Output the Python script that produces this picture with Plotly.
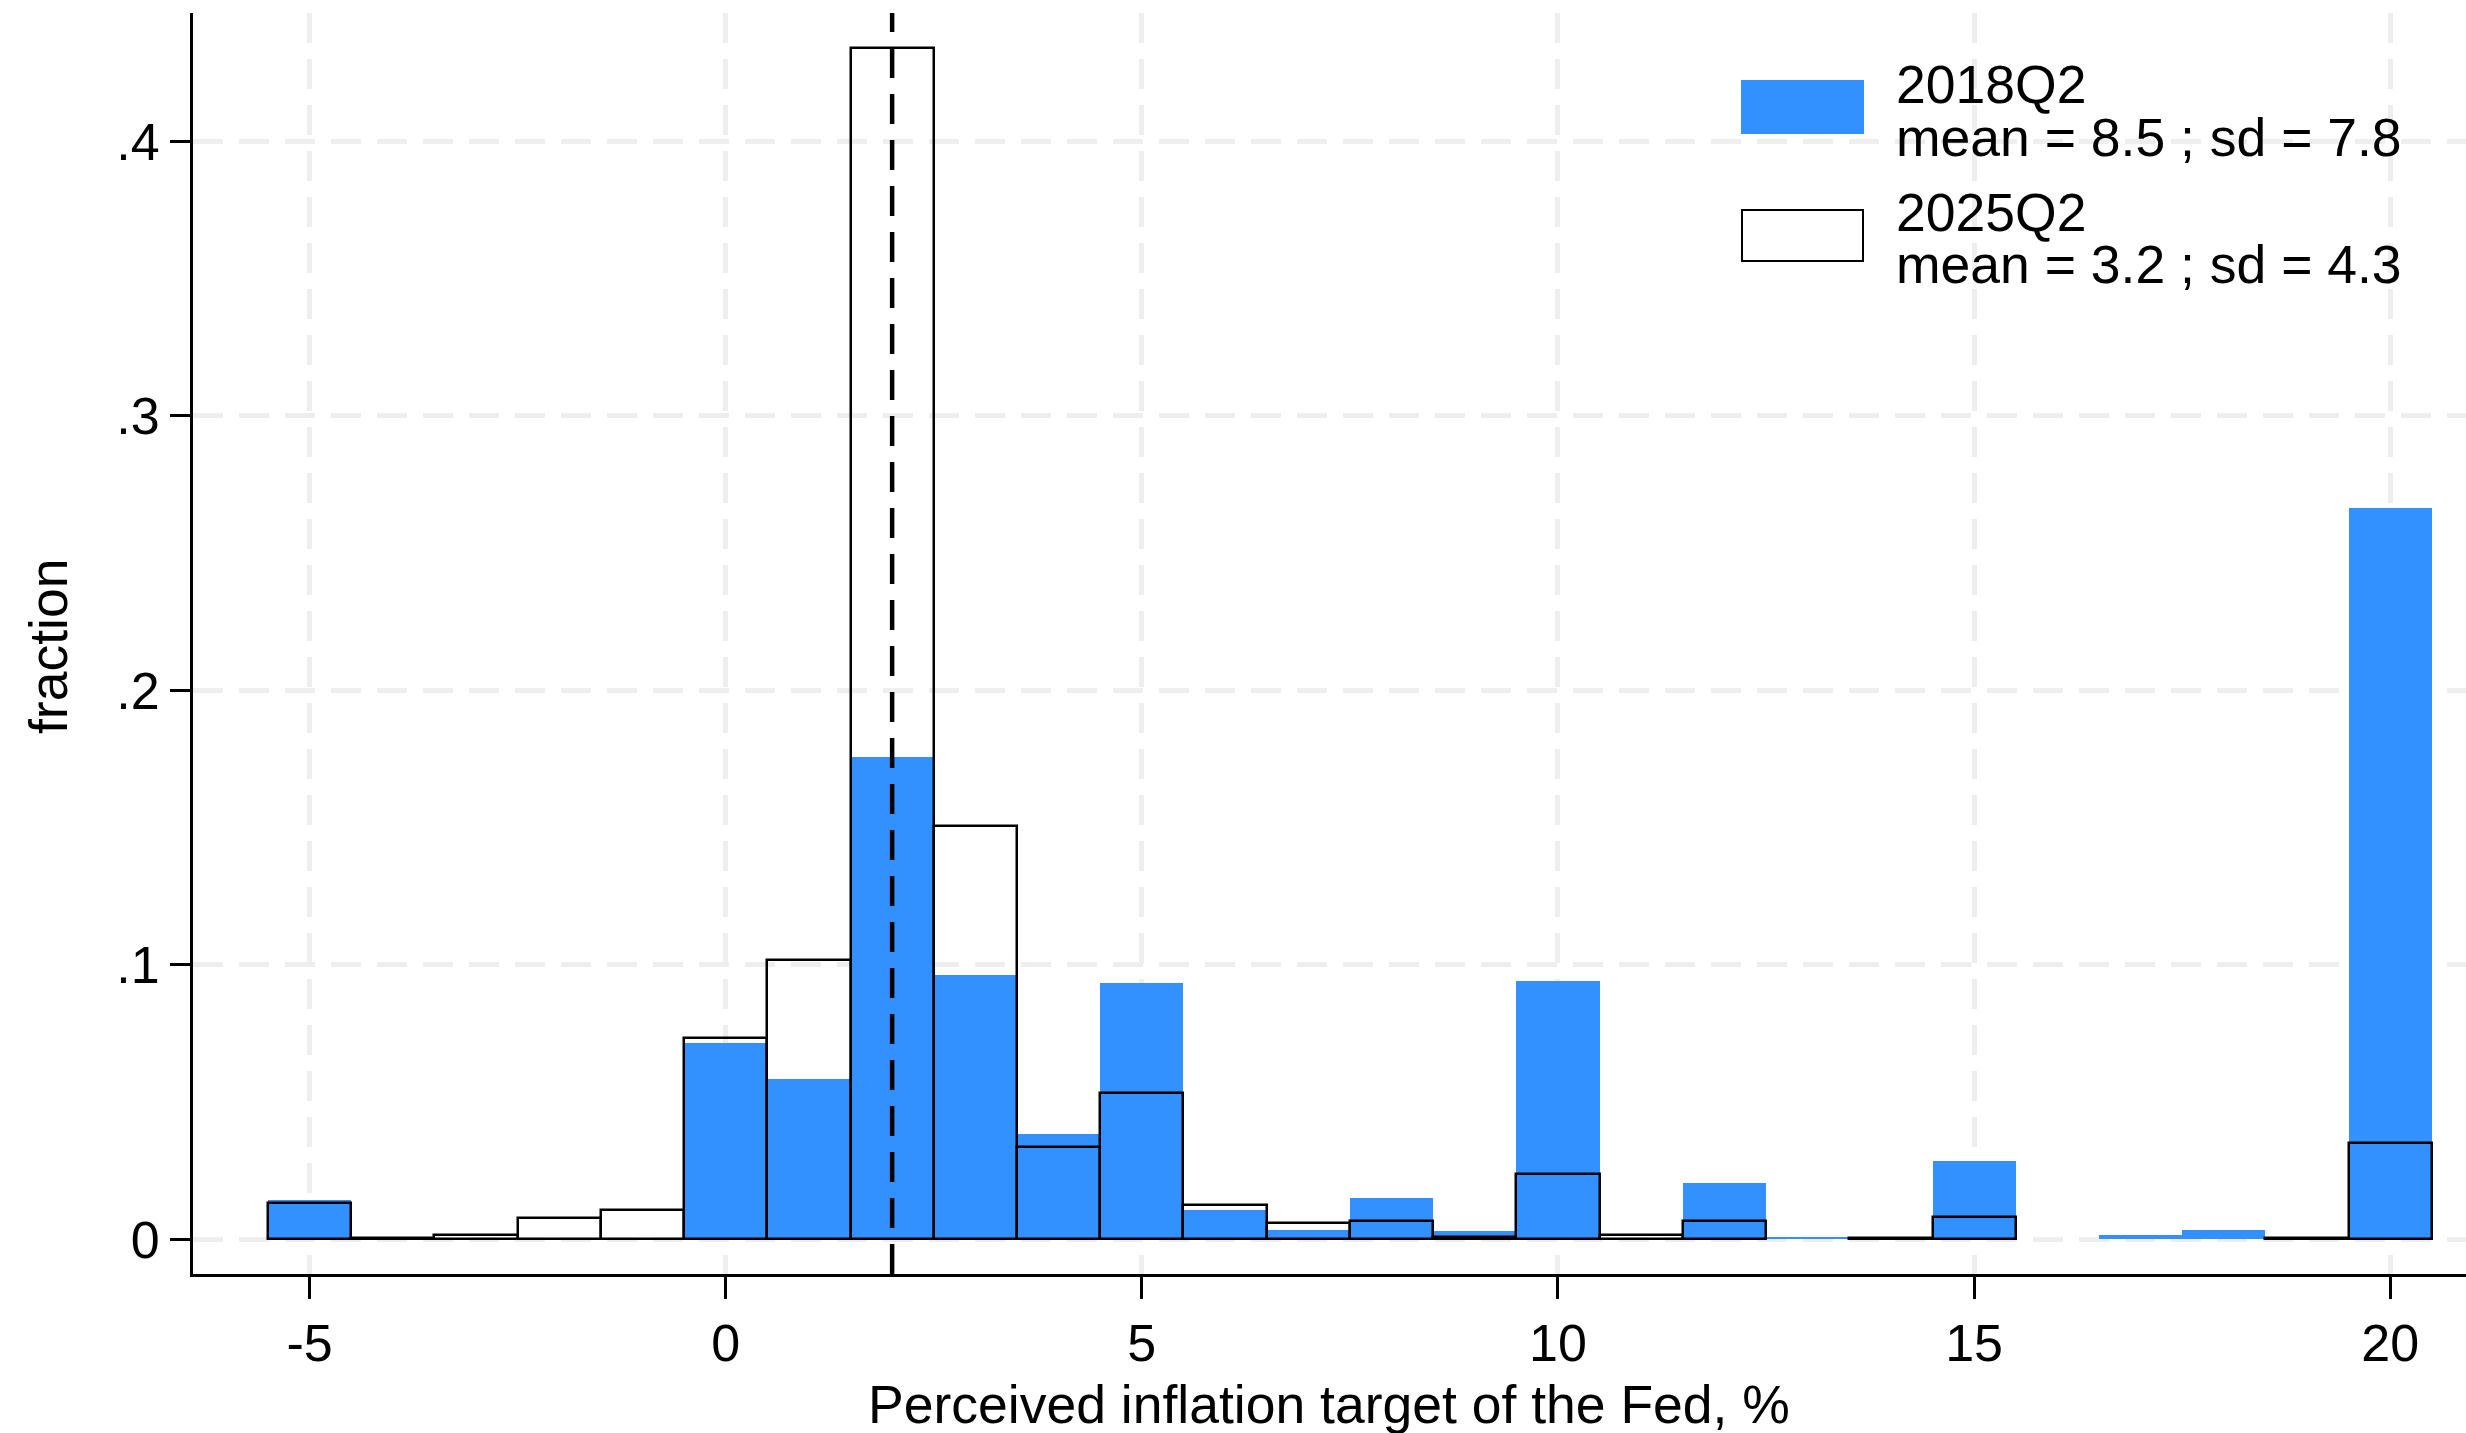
import plotly.graph_objects as go

# Histogram bins (integer percentage points, width 1)
bins = list(range(-5, 21))

# Fraction of respondents per bin
share_2018q2 = [0.0143, None, None, None, None,
                0.0716, 0.0585, 0.1757, 0.0963, 0.0383, 0.0934,
                0.0108, 0.0035, 0.0152, 0.0032, 0.0941,
                None, 0.0206, 0.0008, None, 0.0284,
                None, 0.0016, 0.0034, None, 0.2665]
share_2025q2 = [0.0134, 0.0005, 0.0017, 0.0079, 0.0108,
                0.0733, 0.1018, 0.4342, 0.1507, 0.0338, 0.0533,
                0.0125, 0.0058, 0.0068, 0.0010, 0.0238,
                0.0016, 0.0068, None, 0.0006, 0.0080,
                None, None, None, 0.0006, 0.0352]

legend_titles = ["2018Q2", "2025Q2"]
legend_stats = ["mean = 8.5 ; sd = 7.8", "mean = 3.2 ; sd = 4.3"]

fed_target = 2

x_ticks = [-5, 0, 5, 10, 15, 20]
x_ticktext = ["-5", "0", "5", "10", "15", "20"]
y_ticks = [0, 0.1, 0.2, 0.3, 0.4]
y_ticktext = ["0", ".1", ".2", ".3", ".4"]

BLUE = "#3391FF"
FONT = "Liberation Sans, Arial, sans-serif"

W, H = 2466, 1433
L, R, T, B = 193, 0, 13, 159


def px_x(x):
    return (x - L) / (W - L - R)


def px_y(y):
    return (H - B - y) / (H - T - B)


fig = go.Figure()
fig.add_trace(go.Bar(
    x=bins, y=share_2018q2, width=1,
    marker=dict(color=BLUE, line=dict(width=0)),
    name=legend_titles[0], showlegend=False,
))
fig.add_trace(go.Bar(
    x=bins, y=share_2025q2, width=1,
    marker=dict(color="rgba(0,0,0,0)", line=dict(color="black", width=2.5)),
    name=legend_titles[1], showlegend=False,
))

# Fed's 2% target
fig.add_shape(type="line", xref="x", yref="paper",
              x0=fed_target, x1=fed_target, y0=0, y1=1,
              line=dict(color="black", width=4.5, dash="30px,16px"),
              layer="above")

# Legend keys
fig.add_shape(type="rect", xref="paper", yref="paper",
              x0=px_x(1741), x1=px_x(1864), y0=px_y(134), y1=px_y(80),
              fillcolor=BLUE, line=dict(width=0))
fig.add_shape(type="rect", xref="paper", yref="paper",
              x0=px_x(1742), x1=px_x(1863), y0=px_y(261), y1=px_y(210),
              fillcolor="white", line=dict(color="black", width=2))

legend_lines = [legend_titles[0], legend_stats[0], legend_titles[1], legend_stats[1]]
legend_centers = [84, 137, 212, 265]
for txt, yc in zip(legend_lines, legend_centers):
    fig.add_annotation(text=txt, xref="paper", yref="paper",
                       x=px_x(1894), y=px_y(yc), xanchor="left", yanchor="middle",
                       showarrow=False, font=dict(family=FONT, size=53.5, color="black"))

# Axis titles
fig.add_annotation(text="fraction", xref="paper", yref="paper",
                   x=px_x(48), y=px_y(647), xanchor="center", yanchor="middle",
                   textangle=-90, showarrow=False,
                   font=dict(family=FONT, size=53.5, color="black"))
fig.add_annotation(text="Perceived inflation target of the Fed, %", xref="paper", yref="paper",
                   x=px_x(1329), y=px_y(1404), xanchor="center", yanchor="middle",
                   showarrow=False, font=dict(family=FONT, size=53.5, color="black"))

grid = dict(showgrid=True, gridcolor="#EEEEEE", gridwidth=5, griddash="30px,16px")

fig.update_layout(
    width=W, height=H,
    margin=dict(l=L, r=R, t=T, b=B, pad=0),
    paper_bgcolor="white", plot_bgcolor="white",
    barmode="overlay", bargap=0,
    showlegend=False,
    font=dict(family=FONT, size=52, color="black"),
    xaxis=dict(range=[-6.40, 20.91], tickvals=x_ticks, ticktext=x_ticktext,
               ticks="outside", ticklen=22, tickwidth=2.5, tickcolor="black",
               showline=True, linewidth=3, linecolor="black",
               zeroline=False, tickfont=dict(size=52), **grid),
    yaxis=dict(range=[-0.01264, 0.4468], tickvals=y_ticks, ticktext=y_ticktext,
               ticks="outside", ticklen=20, tickwidth=2.5, tickcolor="black",
               showline=True, linewidth=3, linecolor="black",
               zeroline=False, tickfont=dict(size=52), **grid),
)

fig.write_html("out.html")
